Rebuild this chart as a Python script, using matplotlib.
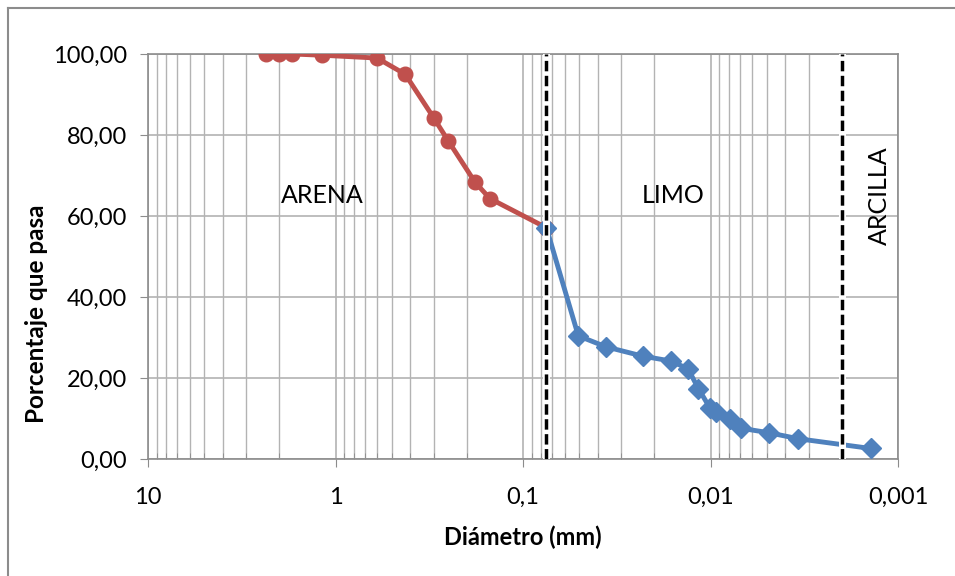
import matplotlib
matplotlib.use("Agg")
import matplotlib.pyplot as plt
from matplotlib.ticker import FixedLocator, FuncFormatter, LogLocator, NullFormatter
from matplotlib.lines import Line2D

# sieve analysis (arena)
d_arena = [2.36, 2.0, 1.70, 1.18, 0.60, 0.425, 0.30, 0.25, 0.18, 0.15, 0.075]
p_arena = [100.0, 100.0, 100.0, 99.7, 99.0, 95.0, 84.3, 78.5, 68.3, 64.3, 57.1]

# hydrometer (limo / arcilla)
d_hidro = [0.075, 0.0507, 0.0361, 0.0230, 0.0163, 0.0132, 0.0116, 0.0101, 0.0094,
           0.0079, 0.0069, 0.0049, 0.0034, 0.0014]
p_hidro = [57.1, 30.4, 27.7, 25.4, 24.2, 22.3, 17.4, 12.7, 11.7, 9.8, 7.6, 6.5, 5.0, 2.6]

# limits between soil types
limites = [0.075, 0.002]

y_ticks = [0, 20, 40, 60, 80, 100]
x_ticks = [10, 1, 0.1, 0.01, 0.001]
x_tick_labels = ["10", "1", "0,1", "0,01", "0,001"]

plt.rcParams['font.family'] = ['Lato', 'DejaVu Sans']

fig = plt.figure(figsize=(9.55, 5.76), dpi=100)
ax = fig.add_axes([148/955, 117/576, 750/955, 405/576])

grid_c = "#b3b3b3"
ax.set_xscale("log")
ax.set_xlim(10, 0.001)
ax.set_ylim(0, 100)

ax.xaxis.set_major_locator(FixedLocator(x_ticks))
ax.xaxis.set_major_formatter(FuncFormatter(lambda v, pos: x_tick_labels[x_ticks.index(v)] if v in x_ticks else ""))
ax.xaxis.set_minor_locator(LogLocator(base=10, subs=range(2, 10)))
ax.xaxis.set_minor_formatter(NullFormatter())
ax.yaxis.set_major_locator(FixedLocator(y_ticks))
ax.yaxis.set_major_formatter(FuncFormatter(lambda v, pos: f"{v:.2f}".replace(".", ",")))

ax.grid(True, which="major", color=grid_c, lw=1.2)
ax.grid(True, which="minor", axis="x", color=grid_c, lw=1.0)
ax.set_axisbelow(True)
for s in ax.spines.values():
    s.set_color("#8c8c8c")
    s.set_linewidth(1.2)

ax.tick_params(axis="both", which="major", direction="out", length=6, color="#8c8c8c",
               labelsize=17)
ax.tick_params(axis="y", which="major", pad=9)
ax.tick_params(axis="x", which="major", pad=14)
ax.tick_params(axis="x", which="minor", direction="in", length=4, color="#8c8c8c")

ax.plot(d_arena, p_arena, color="#C0504D", lw=3.5, marker="o", ms=10.5, zorder=3)
ax.plot(d_hidro, p_hidro, color="#4F81BD", lw=3.5, marker="D", ms=10, zorder=4)

for x in limites:
    ax.axvline(x, color="white", lw=5, zorder=5)
    ax.axvline(x, color="black", lw=2.5, ls=(0, (3, 1.3)), zorder=6)

ax.text(1.17, 65, "ARENA", fontsize=18, ha="center", va="center")
ax.text(0.0158, 65, "LIMO", fontsize=18, ha="center", va="center")
ax.text(0.00125, 65, "ARCILLA", fontsize=18, ha="center", va="center", rotation=90)

fig.text(523/955, 1 - 537/576, "Diámetro (mm)", fontsize=17, fontweight="bold",
         ha="center", va="center")
fig.text(37/955, 1 - 314/576, "Porcentaje que pasa", fontsize=17.5, fontweight="bold",
         ha="center", va="center", rotation=90)

# outer chart border
fig.add_artist(Line2D([8/955, 8/955], [0, 1 - 8/576], color="#8c8c8c", lw=1.5))
fig.add_artist(Line2D([8/955, 1], [1 - 8/576, 1 - 8/576], color="#8c8c8c", lw=1.5))

fig.savefig("out.png", dpi=100)
